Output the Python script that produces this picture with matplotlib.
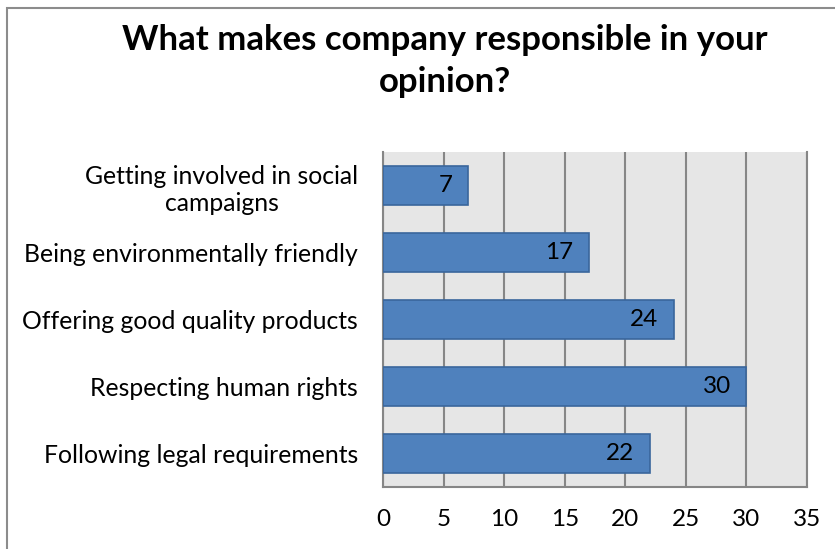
import matplotlib
matplotlib.use("Agg")
import matplotlib.pyplot as plt
from matplotlib.patches import Rectangle

categories = [
    "Getting involved in social\ncampaigns",
    "Being environmentally friendly",
    "Offering good quality products",
    "Respecting human rights",
    "Following legal requirements",
]
values = [7, 17, 24, 30, 22]
xticks = [0, 5, 10, 15, 20, 25, 30, 35]
title = "What makes company responsible in your\nopinion?"

plt.rcParams["font.family"] = ["Lato", "DejaVu Sans"]

W, H = 835, 549
fig = plt.figure(figsize=(W / 100, H / 100), dpi=100)
fig.patch.set_facecolor("white")

# chart frame
fig.add_artist(Rectangle((7 / W, -0.05), 1.2, (H - 8) / H + 0.05,
                         transform=fig.transFigure, fill=False,
                         edgecolor="#8c8c8c", linewidth=1.5))

left, right, top, bottom = 383, 807, 152, 487
ax = fig.add_axes([left / W, 1 - bottom / H, (right - left) / W, (bottom - top) / H])
ax.set_facecolor("#e6e6e6")

y = list(range(len(categories)))
ax.barh(y, values, height=0.58, color="#4f81bd", edgecolor="#3a669c",
        linewidth=1.2, zorder=3)
for yi, v in zip(y, values):
    ax.annotate(str(v), (v, yi), xytext=(-11, 0), textcoords="offset points",
                ha="right", va="center", fontsize=17.5, color="black", zorder=4)

ax.set_xlim(0, 35)
ax.set_ylim(len(categories) - 0.5, -0.5)
ax.set_xticks(xticks)
ax.set_xticklabels([str(t) for t in xticks], fontsize=17.5)
ax.set_yticks(y)
ax.set_yticklabels(categories, fontsize=17.8, multialignment="center",
                   linespacing=1.22)
ax.tick_params(axis="x", length=0, pad=16)
ax.tick_params(axis="y", length=0, pad=18)
ax.xaxis.grid(True, color="#868686", linewidth=1.5, zorder=1)
ax.set_axisbelow(True)
ax.spines["top"].set_visible(False)
for s in ("left", "bottom", "right"):
    ax.spines[s].set_color("#868686")
    ax.spines[s].set_linewidth(1.5)

fig.text(445 / W, 1 - 61 / H, title, ha="center", va="center",
         fontsize=25, fontweight="bold", linespacing=1.4)

fig.savefig("out.png", dpi=100)
